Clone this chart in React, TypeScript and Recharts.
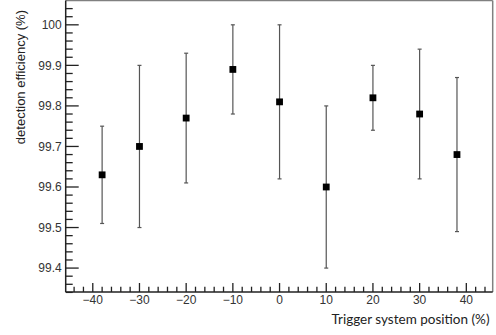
import React from 'react';
import { ComposedChart, Scatter, XAxis, YAxis, ErrorBar, ReferenceLine, Label } from 'recharts';

// Trigger system position (%)
const positions = [-38, -30, -20, -10, 0, 10, 20, 30, 38];
// detection efficiency (%)
const efficiency = [99.63, 99.70, 99.77, 99.89, 99.81, 99.60, 99.82, 99.78, 99.68];
// symmetric uncertainty (%)
const errors = [0.12, 0.20, 0.16, 0.11, 0.19, 0.20, 0.08, 0.16, 0.19];

const xMajorTicks = [-40, -30, -20, -10, 0, 10, 20, 30, 40];
const yMajorTicks = [99.4, 99.5, 99.6, 99.7, 99.8, 99.9, 100];

const X_DOMAIN: [number, number] = [-45.8, 45.65];
const Y_DOMAIN: [number, number] = [99.341, 100.06];

const xTicks: number[] = [];
for (let v = -44; v <= 44; v += 2) xTicks.push(v);
const yTicks: number[] = [];
for (let i = -33; i <= 2; i++) yTicks.push(Math.round((100 + i * 0.02) * 1000) / 1000);

const data = positions.map((x, i) => ({ x, y: efficiency[i], err: errors[i] }));

const isMajorX = (v: number) => xMajorTicks.some((m) => Math.abs(m - v) < 1e-6);
const isMajorY = (v: number) => yMajorTicks.some((m) => Math.abs(m - v) < 1e-6);

const fmtX = (v: number) => (v < 0 ? '\u2212' + Math.abs(v) : String(v));
const fmtY = (v: number) => (Math.abs(v - 100) < 1e-6 ? '100' : v.toFixed(1));

const TICK_FONT = '"Liberation Sans", Arial, sans-serif';

const YTick = (props: any) => {
  const { x, y, payload } = props;
  const v = payload.value;
  const major = isMajorY(v);
  const ax = x + 4;
  return (
    <g>
      <line x1={ax} x2={ax + (major ? 13 : 7)} y1={y} y2={y} stroke="#222" strokeWidth={1.3} />
      {major && (
        <text x={x} y={y + 4.3} textAnchor="end" fontSize={12} fontFamily={TICK_FONT} fill="#333">
          {fmtY(v)}
        </text>
      )}
    </g>
  );
};

const XTick = (props: any) => {
  const { x, y, payload } = props;
  const v = payload.value;
  const major = isMajorX(v);
  return (
    <g>
      <line x1={x} x2={x} y1={y} y2={y - (major ? 9 : 5.3)} stroke="#222" strokeWidth={1.3} />
      {major && (
        <text x={x} y={y + 11.5} textAnchor="middle" fontSize={12} fontFamily={TICK_FONT} fill="#333">
          {fmtX(v)}
        </text>
      )}
    </g>
  );
};

const Square = (props: any) => {
  const { cx, cy } = props;
  if (cx == null || cy == null) return null;
  return <rect x={cx - 3.4} y={cy - 3.4} width={6.8} height={6.8} fill="#000" />;
};

export default function App() {
  return (
    <div style={{ position: 'absolute', left: 0, top: 0, background: '#fff' }}>
      <ComposedChart width={496} height={335} data={data} margin={{ top: 0.5, right: 3.3, bottom: 0, left: 0 }}>
        <XAxis
          type="number"
          dataKey="x"
          domain={X_DOMAIN}
          allowDataOverflow
          ticks={xTicks}
          interval={0}
          tick={<XTick />}
          tickLine={false}
          tickSize={0}
          tickMargin={0}
          height={43}
          axisLine={{ stroke: '#222', strokeWidth: 1.5 }}
        >
          <Label
            content={() => (
              <text x={489.5} y={324} textAnchor="end" fontSize={13.5} fontFamily="Lato, sans-serif" fill="#222">
                Trigger system position (%)
              </text>
            )}
          />
        </XAxis>
        <YAxis
          type="number"
          dataKey="y"
          domain={Y_DOMAIN}
          allowDataOverflow
          ticks={yTicks}
          interval={0}
          tick={<YTick />}
          tickLine={false}
          tickSize={0}
          tickMargin={4}
          width={65.7}
          axisLine={{ stroke: '#222', strokeWidth: 1.5 }}
        >
          <Label
            content={() => (
              <text
                x={25}
                y={10}
                transform="rotate(-90, 25, 10)"
                textAnchor="end"
                fontSize={13}
                fontFamily={TICK_FONT}
                fill="#222"
              >
                detection efficiency (%)
              </text>
            )}
          />
        </YAxis>
        <ReferenceLine y={Y_DOMAIN[1]} stroke="#808080" strokeWidth={1.5} />
        <ReferenceLine x={X_DOMAIN[1]} stroke="#808080" strokeWidth={1.5} />
        <Scatter dataKey="y" isAnimationActive={false} shape={<Square />}>
          <ErrorBar dataKey="err" direction="y" width={2} stroke="#555" strokeWidth={1.2} isAnimationActive={false} />
        </Scatter>
      </ComposedChart>
    </div>
  );
}
